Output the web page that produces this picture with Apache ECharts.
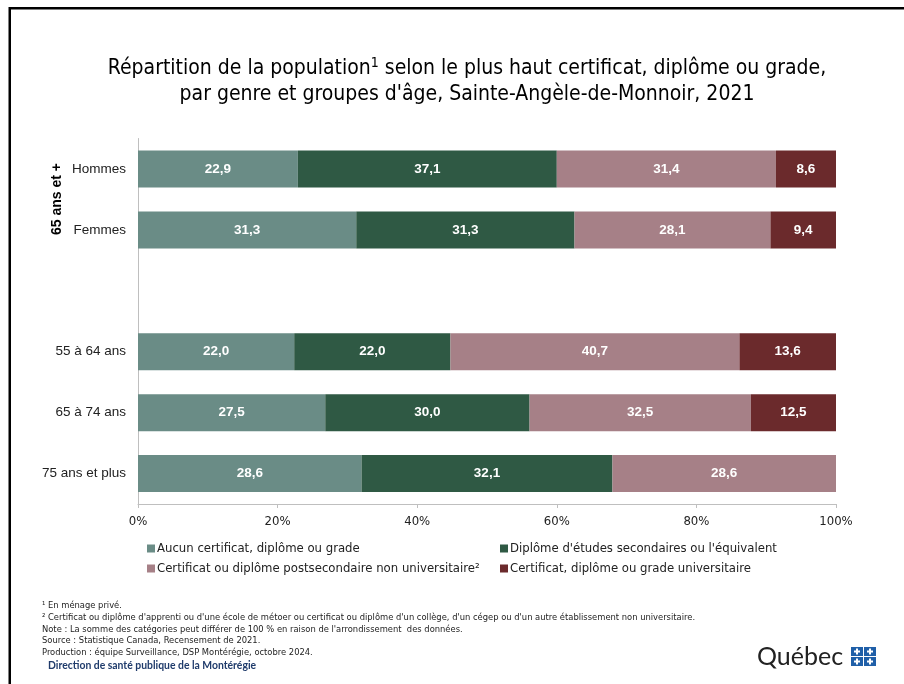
<!DOCTYPE html>
<html><head><meta charset="utf-8">
<script src="https://cdn.jsdelivr.net/npm/echarts@6/dist/echarts.min.js"></script>
<style>html,body{margin:0;padding:0;background:#fff}#c{width:904px;height:684px}</style>
</head><body><div id="c"></div>
<script>
var categories = ['Hommes', 'Femmes', '', '55 à 64 ans', '65 à 74 ans', '75 ans et plus'];
var seriesNames = ['Aucun certificat, diplôme ou grade', "Diplôme d'études secondaires ou l'équivalent", 'Certificat ou diplôme postsecondaire non universitaire²', 'Certificat, diplôme ou grade universitaire'];
var aucun = [22.9, 31.3, null, 22.0, 27.5, 28.6];
var secondaire = [37.1, 31.3, null, 22.0, 30.0, 32.1];
var postsec = [31.4, 28.1, null, 40.7, 32.5, 28.6];
var universitaire = [8.6, 9.4, null, 13.6, 12.5, null];
var xTicks = ['0%', '20%', '40%', '60%', '80%', '100%'];
var colors = ['#6a8c86', '#2f5944', '#a68087', '#6b2a2c'];
var NARROW = "'Liberation Sans Narrow','DejaVu Sans Condensed',sans-serif";

var raw = [aucun, secondaire, postsec, universitaire];
var totals = categories.map(function (c, i) {
  var s = 0; raw.forEach(function (a) { if (a[i] != null) s += a[i]; }); return s;
});
var series = raw.map(function (arr, k) {
  return {
    name: seriesNames[k], type: 'bar', stack: 't', barWidth: 37,
    itemStyle: { color: colors[k] },
    label: {
      show: true, position: 'inside', color: '#fff', fontWeight: 'bold', fontSize: 13.5,
      fontFamily: 'Liberation Sans, Arial, sans-serif',
      formatter: function (p) { return p.data && p.data.raw != null ? p.data.raw.toFixed(1).replace('.', ',') : ''; }
    },
    data: arr.map(function (v, i) {
      return v == null ? { value: null } : { value: v / totals[i] * 100, raw: v };
    })
  };
});

var chart = echarts.init(document.getElementById('c'), null, { renderer: 'canvas' });
var foot = ['¹ En ménage privé.',
  "² Certificat ou diplôme d'apprenti ou d'une école de métoer ou certificat ou diplôme d'un collège, d'un cégep ou d'un autre établissement non universitaire.",
  "Note : La somme des catégories peut différer de 100 % en raison de l'arrondissement  des données.",
  'Source : Statistique Canada, Recensement de 2021.',
  'Production : équipe Surveillance, DSP Montérégie, octobre 2024.'];
var graphics = [
  { type: 'polyline', shape: { points: [[9.75, 684], [9.75, 8.25], [904, 8.25]] }, style: { stroke: '#000', lineWidth: 2.5, fill: null } },
  { type: 'text', x: 57, y: 199, rotation: Math.PI / 2, style: { text: '65 ans et +', font: 'bold 14px Liberation Sans, Arial, sans-serif', fill: '#000', align: 'center', verticalAlign: 'middle' } }
];
foot.forEach(function (t, i) {
  graphics.push({ type: 'text', x: 42, y: 601 + i * 11.8, style: { text: t, font: '9.3px ' + NARROW, fill: '#222' } });
});
graphics.push({ type: 'text', x: 48, y: 661, style: { text: 'Direction de santé publique de la Montérégie', font: 'bold 10.4px Lato, sans-serif', fill: '#1f3b6b' } });
graphics.push({ type: 'text', x: 757, y: 644, style: { text: 'Québec', font: '25px Lato, sans-serif', fill: '#222' } });
[[851, 647], [864, 647], [851, 657], [864, 657]].forEach(function (p) {
  graphics.push({ type: 'rect', shape: { x: p[0], y: p[1], width: 12, height: 9 }, style: { fill: '#1f5fa8' } });
  graphics.push({ type: 'rect', shape: { x: p[0] + 5, y: p[1] + 1.5, width: 2, height: 6 }, style: { fill: '#fff' } });
  graphics.push({ type: 'rect', shape: { x: p[0] + 3, y: p[1] + 3.5, width: 6, height: 2 }, style: { fill: '#fff' } });
});

chart.setOption({
  animation: false,
  title: {
    text: 'Répartition de la population{sup|1} selon le plus haut certificat, diplôme ou grade,\npar genre et groupes d\'âge, Sainte-Angèle-de-Monnoir, 2021',
    left: 462, top: 51, textAlign: 'center',
    textStyle: {
      fontFamily: NARROW, fontSize: 21, fontWeight: 'normal', color: '#000', lineHeight: 26,
      rich: { sup: { fontFamily: NARROW, fontSize: 14, verticalAlign: 'top', lineHeight: 26, padding: [0, 0, 8, 0] } }
    }
  },
  grid: { left: 138, top: 138.5, width: 698, height: 365.5, containLabel: false },
  xAxis: {
    type: 'value', min: 0, max: 100, interval: 20,
    axisLine: { show: true, lineStyle: { color: '#bfbfbf' } },
    axisTick: { show: true, length: 4, lineStyle: { color: '#bfbfbf' } },
    splitLine: { show: false },
    axisLabel: { fontFamily: NARROW, fontSize: 13, color: '#222', margin: 11, formatter: function (v) { return xTicks[Math.round(v / 20)]; } }
  },
  yAxis: {
    type: 'category', data: categories, inverse: true,
    axisLine: { show: true, lineStyle: { color: '#bfbfbf' } },
    axisTick: { show: false },
    axisLabel: { fontFamily: 'Liberation Sans, Arial, sans-serif', fontSize: 13.5, color: '#222', margin: 12 }
  },
  legend: [
    { orient: 'vertical', left: 142, top: 537, itemWidth: 8, itemHeight: 8, itemGap: 7, icon: 'rect',
      data: [seriesNames[0], seriesNames[2]], textStyle: { fontFamily: NARROW, fontSize: 13, color: '#222', padding: [0, 0, 0, -3] } },
    { orient: 'vertical', left: 495, top: 537, itemWidth: 8, itemHeight: 8, itemGap: 7, icon: 'rect',
      data: [seriesNames[1], seriesNames[3]], textStyle: { fontFamily: NARROW, fontSize: 13, color: '#222', padding: [0, 0, 0, -3] } }
  ],
  series: series,
  graphic: graphics
});
</script></body></html>
